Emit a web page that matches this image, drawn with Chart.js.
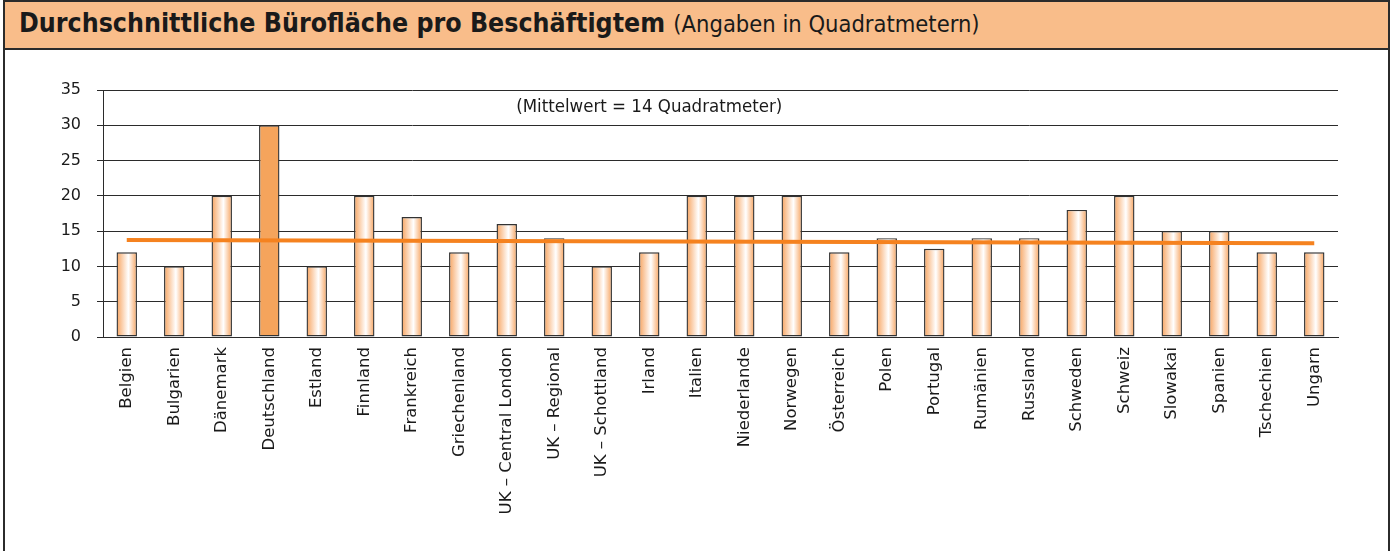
<!DOCTYPE html>
<html>
<head>
<meta charset="utf-8">
<script src="https://cdn.jsdelivr.net/npm/chart.js@4/dist/chart.umd.min.js"></script>
<style>
  html, body { margin: 0; padding: 0; background: #fff; }
  body { width: 1395px; height: 551px; position: relative; overflow: hidden; }
  #frame {
    position: absolute; left: 3px; top: 0; width: 1387px; height: 560px;
    border: 2px solid #2b2b2b; box-sizing: border-box; background: #fff;
  }
  #header {
    position: absolute; left: 0; top: 0; right: 0; height: 48px;
    background: #f9bd8a; border-bottom: 2px solid #2b2b2b; box-sizing: border-box;
    font-family: "DejaVu Sans Condensed", "DejaVu Sans", sans-serif; color: #1a1a1a;
    white-space: nowrap;
  }
  #header .main { position: absolute; left: 14px; top: 5px; font-size: 26.5px; font-weight: bold; }
  #header .sub { font-size: 23.5px; font-weight: normal; }
  #mainChart { position: absolute; left: 0; top: 0; }
</style>
</head>
<body>
<div id="frame">
  <div id="header"><span class="main">Durchschnittliche Bürofläche pro Beschäftigtem <span class="sub">(Angaben in Quadratmetern)</span></span></div>
</div>
<canvas id="mainChart" width="1395" height="551"></canvas>
<script>
"use strict";

const countries = [
    "Belgien", "Bulgarien", "Dänemark", "Deutschland", "Estland", "Finnland",
    "Frankreich", "Griechenland", "UK – Central London", "UK – Regional",
    "UK – Schottland", "Irland", "Italien", "Niederlande", "Norwegen",
    "Österreich", "Polen", "Portugal", "Rumänien", "Russland", "Schweden",
    "Schweiz", "Slowakai", "Spanien", "Tschechien", "Ungarn"
];
const areaValues = [
    12, 10, 20, 30, 10, 20, 17, 12, 16, 14, 10, 12, 20, 20, 20,
    12, 14, 12.5, 14, 14, 18, 20, 15, 15, 12, 12
];
// Mittelwert-Linie: nur Anfangs- und Endpunkt, dazwischen leer
const meanLine = [13.75, null, null, null, null, null, null, null, null, null,
    null, null, null, null, null, null, null, null, null, null, null, null,
    null, null, null, 13.3];
const yTicks = [0, 5, 10, 15, 20, 25, 30, 35];
const meanText = "(Mittelwert = 14 Quadratmeter)";
const highlight = "Deutschland";

const barPct = 0.43;

function barFill(context) {
    var chart = context.chart;
    var xs = chart.scales.x;
    if (!xs || !chart.chartArea) return "#f9b47c";
    if (countries[context.dataIndex] === highlight) return "#f5a45c";
    var center = xs.getPixelForValue(context.dataIndex);
    var half = xs.width / countries.length * barPct / 2;
    var g = chart.ctx.createLinearGradient(center - half, 0, center + half, 0);
    g.addColorStop(0, "#f7a460");
    g.addColorStop(0.58, "#ffffff");
    g.addColorStop(1, "#f7a460");
    return g;
}

const meanLabel = {
    id: "meanLabel",
    afterDraw: function (chart) {
        var ctx = chart.ctx;
        var xs = chart.scales.x, ys = chart.scales.y;
        ctx.save();
        ctx.font = "18.5px 'DejaVu Sans Condensed', 'DejaVu Sans', sans-serif";
        ctx.fillStyle = "#1a1a1a";
        ctx.textAlign = "center";
        ctx.textBaseline = "middle";
        ctx.fillText(meanText, xs.getPixelForValue(11), ys.getPixelForValue(32.6));
        ctx.restore();
    }
};

var chart = new Chart(document.getElementById("mainChart"), {
    type: "bar",
    data: {
        labels: countries,
        datasets: [{
            type: "line",
            label: "Mittelwert",
            data: meanLine,
            spanGaps: true,
            borderColor: "#f5821f",
            borderWidth: 4,
            pointRadius: 0,
            order: 0
        }, {
            label: "Bürofläche",
            data: areaValues,
            backgroundColor: barFill,
            borderColor: "#333333",
            borderWidth: 1.4,
            borderSkipped: false,
            barPercentage: barPct,
            categoryPercentage: 1,
            order: 1
        }]
    },
    options: {
        responsive: false,
        animation: false,
        devicePixelRatio: 1,
        layout: { padding: { left: 43, top: 90, right: 57, bottom: 0 } },
        plugins: { legend: { display: false }, tooltip: { enabled: false } },
        scales: {
            x: {
                grid: { display: false },
                border: { display: true, color: "#2b2b2b", width: 1 },
                ticks: {
                    autoSkip: false, minRotation: 90, maxRotation: 90, padding: 2,
                    color: "#1a1a1a",
                    font: { family: "'DejaVu Sans', sans-serif", size: 16.5 }
                },
                afterFit: function (s) { s.height = 214; }
            },
            y: {
                min: 0, max: 35,
                afterBuildTicks: function (s) { s.ticks = yTicks.map(function (v) { return { value: v }; }); },
                grid: { color: "#2b2b2b", lineWidth: 1, tickLength: 6 },
                border: { display: true, color: "#2b2b2b", width: 1 },
                ticks: {
                    padding: 16, color: "#1a1a1a",
                    font: { family: "'DejaVu Sans', sans-serif", size: 16 }
                },
                afterFit: function (s) { s.width = 60; }
            }
        }
    },
    plugins: [meanLabel]
});
</script>
</body>
</html>
